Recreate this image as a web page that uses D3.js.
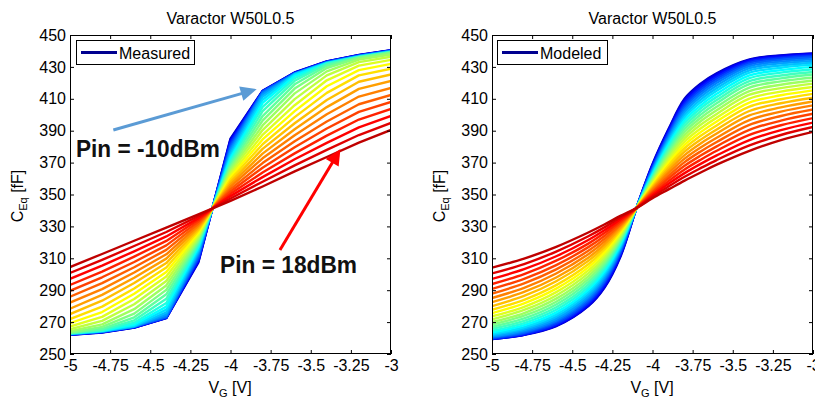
<!DOCTYPE html>
<html><head><meta charset="utf-8">
<script src="https://cdn.jsdelivr.net/npm/d3@7"></script>
<style>
body{margin:0;background:#fff;}
svg{display:block;}
text{font-family:"Liberation Sans",Arial,sans-serif;}
</style></head>
<body><svg id="c" width="815" height="401"></svg>
<script>
// ---------------- DATA ----------------
const pinLevels = [-10,-9,-8,-7,-6,-5,-4,-3,-2,-1,0,1,2,3,4,5,6,7,8,9,10,11,12,13,14,15,16,17,18]; // dBm
const vgMeasured = [-5,-4.8,-4.6,-4.4,-4.2,-4.0,-3.8,-3.6,-3.4,-3.2,-3.0];
const vgModeled  = [-5,-4.8,-4.6,-4.4,-4.3,-4.2,-4.1,-4.0,-3.9,-3.8,-3.7,-3.6,-3.4,-3.2,-3.0];
const xTicks = [-5,-4.75,-4.5,-4.25,-4,-3.75,-3.5,-3.25,-3];
const xTickLabels = ["-5","-4.75","-4.5","-4.25","-4","-3.75","-3.5","-3.25","-3"];
const yTicks = [250,270,290,310,330,350,370,390,410,430,450];

// measured C_Eq [fF], one row per Pin level (rows follow pinLevels)
const measured = [
[262.0,263.5,266.5,272.5,307.5,385.0,415.0,426.5,433.5,437.5,440.5],
[262.1,263.6,266.6,272.6,308.0,384.4,414.9,426.4,433.4,437.4,440.4],
[262.2,263.7,266.7,272.7,308.6,383.5,414.7,426.2,433.2,437.3,440.3],
[262.3,263.8,266.9,272.9,309.4,382.5,414.6,426.1,433.1,437.1,440.2],
[262.4,263.9,267.0,273.0,310.3,381.3,414.5,426.0,433.0,437.0,440.1],
[262.5,264.0,267.1,273.3,311.4,379.9,414.2,425.8,432.9,436.9,440.0],
[262.5,264.1,267.2,273.9,312.5,378.5,413.5,425.7,432.7,436.8,439.9],
[262.6,264.2,267.3,274.9,313.7,377.0,412.5,425.6,432.6,436.7,439.8],
[262.7,264.3,267.4,276.1,314.8,375.5,411.2,425.4,432.5,436.6,439.6],
[262.8,264.5,267.8,277.8,315.9,374.0,409.4,425.1,432.3,436.4,439.5],
[262.9,264.6,268.5,279.7,317.1,372.6,407.4,424.3,432.2,436.3,439.4],
[263.0,264.7,269.6,282.0,318.2,371.1,405.0,423.0,432.1,436.2,439.3],
[263.1,265.0,271.1,284.6,319.3,369.6,402.2,421.3,431.7,436.1,439.2],
[263.2,265.8,273.0,287.4,320.5,368.1,399.2,419.1,430.7,436.0,439.1],
[263.5,267.0,275.3,290.2,321.6,366.7,396.3,416.4,429.3,435.6,438.7],
[264.3,268.6,278.1,293.0,322.7,365.2,393.3,413.4,427.2,434.6,437.8],
[265.5,270.8,281.2,295.8,323.9,363.7,390.4,409.8,424.7,433.0,436.4],
[267.2,273.3,284.5,298.6,325.0,362.2,387.4,406.0,421.6,430.8,434.4],
[269.3,276.3,287.8,301.4,326.2,360.8,384.5,402.3,417.9,428.0,431.9],
[271.9,279.7,291.1,304.2,327.3,359.3,381.5,398.5,413.7,424.7,428.9],
[275.0,283.4,294.5,307.0,328.4,357.8,378.6,394.7,409.2,420.7,425.3],
[278.4,287.1,297.8,309.8,329.6,356.3,375.6,390.9,404.8,416.2,421.2],
[282.2,290.7,301.1,312.5,330.7,354.9,372.7,387.2,400.3,411.4,416.8],
[285.9,294.4,304.4,315.3,331.8,353.4,369.7,383.4,395.8,406.6,412.4],
[289.6,298.1,307.7,318.1,333.0,351.9,366.8,379.6,391.4,401.8,408.0],
[293.3,301.7,311.1,320.9,334.1,350.4,363.8,375.8,386.9,397.0,403.6],
[297.1,305.4,314.4,323.7,335.2,349.0,360.9,372.1,382.4,392.1,399.3],
[300.8,309.0,317.7,326.5,336.4,347.5,358.0,368.3,378.0,387.3,394.9],
[304.5,312.7,321.0,329.3,337.5,346.0,355.0,364.5,373.5,382.5,390.5]
];

// modeled C_Eq [fF], one row per Pin level
const modeled = [
[259.4,262.0,267.5,280.0,291.5,311.0,341.5,369.0,391.0,410.0,419.5,426.0,434.5,437.2,438.5],
[259.4,262.1,267.7,280.4,292.0,311.6,341.5,368.5,390.5,409.3,418.9,425.5,434.3,437.0,438.3],
[259.5,262.2,268.1,281.0,292.8,312.2,341.5,368.0,389.8,408.3,418.0,424.8,433.9,436.6,438.0],
[259.7,262.5,268.6,281.8,293.7,313.0,341.5,367.4,388.9,407.2,416.9,423.8,433.2,436.0,437.4],
[259.9,263.0,269.3,282.7,294.7,313.7,341.5,366.7,388.0,405.9,415.6,422.6,432.4,435.3,436.7],
[260.3,263.5,270.2,283.8,295.7,314.5,341.5,366.1,387.0,404.5,414.2,421.3,431.4,434.4,435.9],
[260.7,264.2,271.1,285.0,296.9,315.4,341.5,365.4,385.9,403.1,412.8,419.9,430.3,433.3,434.9],
[261.2,265.0,272.2,286.2,298.0,316.2,341.5,364.7,384.8,401.5,411.2,418.3,429.1,432.2,433.8],
[261.9,265.9,273.4,287.5,299.3,317.1,341.5,364.0,383.6,399.9,409.5,416.7,427.7,430.9,432.6],
[262.7,266.9,274.7,288.9,300.6,317.9,341.5,363.2,382.4,398.3,407.8,415.0,426.2,429.5,431.4],
[263.6,268.1,276.1,290.4,301.9,318.8,341.5,362.5,381.1,396.5,405.9,413.1,424.5,428.0,430.0],
[264.6,269.4,277.7,291.9,303.3,319.7,341.5,361.7,379.8,394.8,404.1,411.2,422.8,426.4,428.5],
[265.8,270.8,279.3,293.5,304.7,320.7,341.5,361.0,378.4,393.0,402.1,409.2,420.9,424.6,426.8],
[267.1,272.3,281.0,295.2,306.1,321.6,341.5,360.2,377.1,391.1,400.1,407.2,419.0,422.8,425.2],
[268.5,274.0,282.8,296.9,307.6,322.5,341.5,359.4,375.6,389.2,398.0,405.0,416.9,420.9,423.4],
[270.0,275.7,284.7,298.7,309.1,323.5,341.5,358.6,374.2,387.2,395.9,402.8,414.7,418.8,421.5],
[271.7,277.6,286.7,300.5,310.7,324.5,341.5,357.8,372.7,385.2,393.7,400.5,412.4,416.7,419.5],
[273.6,279.6,288.8,302.4,312.3,325.4,341.5,357.0,371.2,383.2,391.4,398.2,410.0,414.5,417.4],
[275.6,281.8,291.0,304.3,313.9,326.4,341.5,356.2,369.7,381.1,389.1,395.8,407.5,412.2,415.3],
[277.7,284.0,293.2,306.3,315.5,327.4,341.5,355.4,368.2,379.0,386.8,393.3,404.9,409.7,413.1],
[280.0,286.4,295.6,308.4,317.1,328.4,341.5,354.5,366.6,376.9,384.4,390.8,402.2,407.2,410.7],
[282.5,288.9,298.0,310.4,318.8,329.4,341.5,353.7,365.0,374.7,382.0,388.2,399.4,404.6,408.3],
[285.1,291.5,300.5,312.6,320.5,330.4,341.5,352.9,363.4,372.5,379.5,385.6,396.5,402.0,405.9],
[287.8,294.3,303.1,314.7,322.2,331.4,341.5,352.0,361.7,370.3,377.0,382.9,393.5,399.2,403.3],
[290.8,297.1,305.7,317.0,324.0,332.4,341.5,351.2,360.1,368.0,374.4,380.2,390.4,396.3,400.6],
[293.9,300.1,308.5,319.2,325.8,333.5,341.5,350.3,358.4,365.7,371.8,377.4,387.2,393.4,397.9],
[297.1,303.2,311.3,321.5,327.6,334.5,341.5,349.4,356.7,363.4,369.2,374.5,384.0,390.4,395.1],
[300.5,306.4,314.2,323.8,329.4,335.6,341.5,348.6,355.0,361.1,366.5,371.6,380.6,387.3,392.3],
[304.1,309.8,317.2,326.2,331.2,336.6,341.5,347.7,353.2,358.7,363.8,368.7,377.2,384.1,389.3]
];

// annotations (data coordinates of the left panel)
const notes = [
  {text:"Pin = -10dBm", v:-4.963, c:373.5, len:144},
  {text:"Pin = 18dBm",  v:-4.065, c:300.8, len:137}
];
const arrows = [
  {v0:-4.730, c0:390.4, v1:-3.837, c1:416.0, color:"#5b9bd5"},
  {v0:-3.692, c0:315.2, v1:-3.315, c1:378.5, color:"#ff0000"}
];

// ---------------- COLORS (MATLAB jet) ----------------
function jet(m){
  const n=Math.ceil(m/4);
  const u=[];
  for(let i=1;i<=n;i++)u.push(i/n);
  for(let i=0;i<n-1;i++)u.push(1);
  for(let i=n;i>=1;i--)u.push(i/n);
  const off=Math.ceil(n/2)-(m%4===1?1:0);
  const J=Array.from({length:m},()=>[0,0,0]);
  u.forEach((val,i)=>{
    const g=off+i+1, r=g+n, b=g-n;
    if(g>=1&&g<=m)J[g-1][1]=val;
    if(r>=1&&r<=m)J[r-1][0]=val;
    if(b>=1&&b<=m)J[b-1][2]=val;
  });
  return J.map(c=>d3.rgb(Math.round(c[0]*255),Math.round(c[1]*255),Math.round(c[2]*255)).formatHex());
}
const colors = jet(pinLevels.length);

// ---------------- DRAW ----------------
const svg=d3.select("#c");
const PW=321, YT=35, YB=354;
const panels=[
  {x0:70, V:vgMeasured, rows:measured, curve:d3.curveLinear, legend:"Measured", lbx:6, lbw:118},
  {x0:492,V:vgModeled,  rows:modeled,  curve:d3.curveCatmullRom.alpha(0.5), legend:"Modeled", lbx:5, lbw:110}
];

panels.forEach((p,pi)=>{
  const x=d3.scaleLinear().domain([-5,-3]).range([p.x0,p.x0+PW]);
  const y=d3.scaleLinear().domain([250,450]).range([YB,YT]);
  const g=svg.append("g");
  const clipId="clip"+pi;
  g.append("clipPath").attr("id",clipId).append("rect")
    .attr("x",p.x0).attr("y",YT).attr("width",PW).attr("height",YB-YT);

  const line=d3.line().x((d,i)=>x(p.V[i])).y(d=>y(d)).curve(p.curve);
  g.append("g").attr("clip-path",`url(#${clipId})`)
    .selectAll("path").data(p.rows).join("path")
    .attr("d",line).attr("fill","none")
    .attr("stroke",(d,i)=>colors[i]).attr("stroke-width",2.4)
    .attr("stroke-linejoin","round");

  // axes (ticks inward on all four sides)
  const fmt=(d)=>xTickLabels[xTicks.indexOf(d)];
  const ax=[
    g.append("g").attr("transform",`translate(0,${YB})`).call(d3.axisBottom(x).tickValues(xTicks).tickFormat(fmt).tickSize(-4).tickPadding(6)),
    g.append("g").attr("transform",`translate(0,${YT})`).call(d3.axisTop(x).tickValues(xTicks).tickFormat("").tickSize(-4)),
    g.append("g").attr("transform",`translate(${p.x0},0)`).call(d3.axisLeft(y).tickValues(yTicks).tickSize(-4).tickPadding(4)),
    g.append("g").attr("transform",`translate(${p.x0+PW},0)`).call(d3.axisRight(y).tickValues(yTicks).tickFormat("").tickSize(-4))
  ];
  ax.forEach(a=>{
    a.select(".domain").remove();
    a.selectAll("line").attr("stroke","#000");
    a.selectAll("text").attr("font-size",16).attr("fill","#000").attr("font-family","'Liberation Sans',Arial,sans-serif");
  });
  g.append("rect").attr("x",p.x0+0.5).attr("y",YT+0.5).attr("width",PW-1).attr("height",YB-YT-1)
    .attr("fill","none").attr("stroke","#000").attr("stroke-width",1);

  // title
  g.append("text").attr("x",p.x0+PW/2).attr("y",24).attr("text-anchor","middle")
    .attr("font-size",16).text("Varactor W50L0.5");

  // axis labels
  const yl=g.append("text").attr("transform",`translate(${p.x0-47},196) rotate(-90)`)
    .attr("text-anchor","middle").attr("font-size",16);
  yl.append("tspan").text("C");
  yl.append("tspan").attr("dy",4).attr("font-size",11).text("Eq");
  yl.append("tspan").attr("dy",-4).text(" [fF]");

  const xl=g.append("text").attr("x",p.x0+160).attr("y",393).attr("text-anchor","middle").attr("font-size",16);
  xl.append("tspan").text("V");
  xl.append("tspan").attr("dy",4).attr("font-size",11).text("G");
  xl.append("tspan").attr("dy",-4).text(" [V]");

  // legend
  const lx=p.x0+p.lbx;
  g.append("rect").attr("x",lx+0.5).attr("y",40.5).attr("width",p.lbw).attr("height",24)
    .attr("fill","#fff").attr("stroke","#000").attr("stroke-width",1);
  g.append("line").attr("x1",lx+5).attr("x2",lx+41).attr("y1",52.5).attr("y2",52.5)
    .attr("stroke","#00008f").attr("stroke-width",3);
  g.append("text").attr("x",lx+43).attr("y",58.5).attr("font-size",16).text(p.legend);

  if(pi===0){
    arrows.forEach(a=>{
      const X0=x(a.v0),Y0=y(a.c0),X1=x(a.v1),Y1=y(a.c1);
      const L=Math.hypot(X1-X0,Y1-Y0), ux=(X1-X0)/L, uy=(Y1-Y0)/L;
      const hl=16, hw=7.5;
      const bx=X1-ux*hl, by=Y1-uy*hl;
      g.append("line").attr("x1",X0).attr("y1",Y0).attr("x2",bx+ux*1).attr("y2",by+uy*1)
        .attr("stroke",a.color).attr("stroke-width",3);
      g.append("path").attr("d",`M${X1},${Y1}L${bx-uy*hw},${by+ux*hw}L${bx+uy*hw},${by-ux*hw}Z`)
        .attr("fill",a.color);
    });
    notes.forEach(n=>{
      g.append("text").attr("x",x(n.v)).attr("y",y(n.c))
        .attr("font-family","Lato,'Liberation Sans',sans-serif").attr("font-weight","bold")
        .attr("font-size",23).attr("textLength",n.len).attr("lengthAdjust","spacingAndGlyphs")
        .attr("fill","#111").text(n.text);
    });
  }
});
</script></body></html>
